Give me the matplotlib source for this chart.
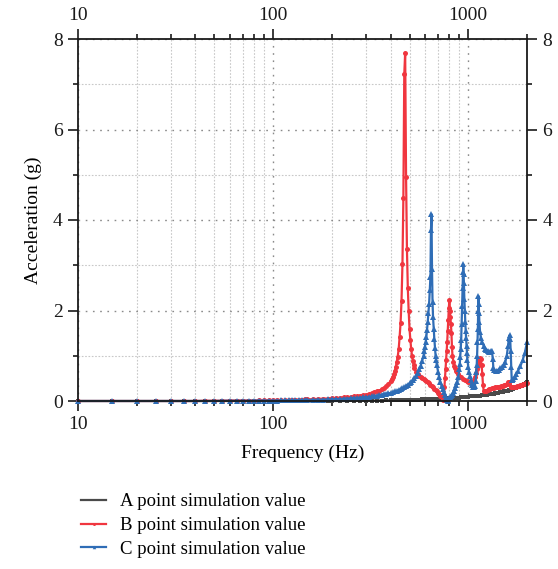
import matplotlib
matplotlib.use("Agg")
import matplotlib.pyplot as plt
from matplotlib.ticker import FixedLocator, NullFormatter, FixedFormatter, MultipleLocator

plt.rcParams["font.family"] = ["Liberation Serif", "DejaVu Serif"]

# ── data (frequency in Hz, acceleration in g) ──
A_POINTS = [
    (10, 0), (15, 0), (20, 0), (25, 0), (30, 0), (35, 0), (40, 0), (45, 0), (50, 0), (55, 0),
    (60, 0), (65, 0), (70, 0), (75, 0), (80, 0), (85, 0), (90, 0), (95, 0), (100, 0),
    (110, 0), (120, 0), (130, 0), (140, 0), (150, 0), (160, 0), (170, 0), (180, 0), (190, 0), (200, 0),
    (220, 0), (240, 0), (260, 0.005), (280, 0.005), (300, 0.01), (320, 0.01), (340, 0.01), (360, 0.01),
    (380, 0.015), (400, 0.015), (420, 0.02), (440, 0.02), (460, 0.02), (480, 0.025), (500, 0.025),
    (520, 0.03), (540, 0.03), (560, 0.03), (580, 0.035), (600, 0.035), (620, 0.04), (640, 0.04),
    (660, 0.045), (680, 0.045), (700, 0.05), (720, 0.05), (740, 0.055), (760, 0.055), (780, 0.06),
    (800, 0.06), (820, 0.065), (840, 0.065), (860, 0.07), (880, 0.075), (900, 0.075), (920, 0.08),
    (940, 0.085), (960, 0.085), (980, 0.09), (1000, 0.095), (1025, 0.10), (1050, 0.10), (1075, 0.11),
    (1100, 0.11), (1125, 0.12), (1150, 0.12), (1175, 0.13), (1200, 0.13), (1225, 0.14), (1250, 0.14),
    (1275, 0.15), (1300, 0.15), (1325, 0.16), (1350, 0.16), (1375, 0.17), (1400, 0.17), (1425, 0.18),
    (1450, 0.19), (1475, 0.19), (1500, 0.20), (1525, 0.21), (1550, 0.21), (1575, 0.22), (1600, 0.23),
    (1625, 0.24), (1650, 0.25), (1675, 0.26), (1700, 0.27), (1725, 0.28), (1750, 0.29), (1775, 0.30),
    (1800, 0.31), (1825, 0.32), (1850, 0.33), (1875, 0.34), (1900, 0.35), (1925, 0.37), (1950, 0.38),
    (1975, 0.39), (2000, 0.41),
]

B_POINTS = [
    (10, 0), (15, 0), (20, 0), (25, 0), (30, 0), (35, 0), (40, 0), (45, 0.005), (50, 0.005), (55, 0.005),
    (60, 0.01), (65, 0.01), (70, 0.01), (75, 0.01), (80, 0.01), (85, 0.015), (90, 0.015), (95, 0.015),
    (100, 0.02), (105, 0.02), (110, 0.02), (115, 0.02), (120, 0.025), (125, 0.025), (130, 0.03),
    (135, 0.03), (140, 0.03), (145, 0.035), (150, 0.035), (160, 0.04), (170, 0.045), (180, 0.05),
    (190, 0.055), (200, 0.06), (210, 0.065), (220, 0.07), (230, 0.08), (240, 0.085), (250, 0.09),
    (260, 0.10), (270, 0.11), (280, 0.12), (290, 0.13), (300, 0.14), (310, 0.15), (320, 0.17),
    (330, 0.19), (340, 0.21), (350, 0.23), (360, 0.26), (370, 0.29), (380, 0.33), (390, 0.38),
    (400, 0.44), (405, 0.48), (410, 0.53), (415, 0.59), (420, 0.66), (425, 0.75), (430, 0.86),
    (435, 0.98), (440, 1.15), (445, 1.42), (450, 1.73), (455, 2.22), (460, 3.03), (465, 4.49),
    (470, 7.22), (475, 7.70), (480, 4.96), (485, 3.36), (490, 2.50), (495, 1.99), (500, 1.59),
    (505, 1.35), (510, 1.15), (515, 1.0), (520, 0.88), (525, 0.8), (530, 0.73), (540, 0.65),
    (550, 0.6), (560, 0.56), (570, 0.53), (580, 0.5), (590, 0.48), (600, 0.46), (610, 0.44),
    (620, 0.42), (630, 0.39), (640, 0.36), (650, 0.33), (660, 0.3), (670, 0.27), (680, 0.24),
    (690, 0.21), (700, 0.18), (710, 0.15), (720, 0.12), (730, 0.09), (740, 0.05), (745, 0.02),
    (750, 0.1), (755, 0.3), (760, 0.5), (765, 0.7), (770, 0.9), (775, 1.1), (780, 1.3), (785, 1.55),
    (790, 1.8), (795, 2.05), (800, 2.23), (805, 2.0), (810, 1.85), (815, 1.7), (820, 1.5), (825, 1.2),
    (830, 1.0), (840, 0.86), (850, 0.78), (860, 0.72), (870, 0.67), (880, 0.63), (890, 0.59),
    (900, 0.56), (920, 0.52), (940, 0.49), (960, 0.46), (980, 0.44), (1000, 0.42), (1020, 0.41),
    (1040, 0.42), (1060, 0.45), (1080, 0.52), (1100, 0.62), (1110, 0.7), (1120, 0.78), (1130, 0.85),
    (1140, 0.9), (1150, 0.94), (1160, 0.92), (1170, 0.8), (1180, 0.6), (1190, 0.35), (1200, 0.22),
    (1220, 0.22), (1240, 0.23), (1260, 0.25), (1280, 0.26), (1300, 0.27), (1325, 0.28), (1350, 0.29),
    (1375, 0.3), (1400, 0.3), (1425, 0.31), (1450, 0.32), (1475, 0.33), (1500, 0.34), (1525, 0.35),
    (1550, 0.36), (1575, 0.38), (1600, 0.42), (1610, 0.43), (1625, 0.38), (1650, 0.32), (1675, 0.31),
    (1700, 0.31), (1725, 0.31), (1750, 0.32), (1775, 0.33), (1800, 0.34), (1825, 0.34), (1850, 0.35),
    (1875, 0.36), (1900, 0.37), (1925, 0.38), (1950, 0.38), (1975, 0.39), (2000, 0.40),
]

C_POINTS = [
    (10, 0), (15, 0), (20, 0), (25, 0), (30, 0), (35, 0), (40, 0), (45, 0), (50, 0), (55, 0.005),
    (60, 0.005), (65, 0.005), (70, 0.005), (75, 0.005), (80, 0.01), (85, 0.01), (90, 0.01), (95, 0.01),
    (100, 0.01), (105, 0.01), (110, 0.015), (115, 0.015), (120, 0.015), (125, 0.015), (130, 0.02),
    (135, 0.02), (140, 0.02), (145, 0.02), (150, 0.025), (160, 0.025), (170, 0.03), (180, 0.03),
    (190, 0.035), (200, 0.04), (210, 0.04), (220, 0.045), (230, 0.05), (240, 0.055), (250, 0.06),
    (260, 0.065), (270, 0.07), (280, 0.075), (290, 0.08), (300, 0.085), (310, 0.09), (320, 0.1),
    (330, 0.11), (340, 0.12), (350, 0.13), (360, 0.14), (370, 0.15), (380, 0.16), (390, 0.17),
    (400, 0.18), (410, 0.19), (420, 0.21), (430, 0.22), (440, 0.24), (450, 0.26), (460, 0.28),
    (470, 0.3), (480, 0.33), (490, 0.36), (500, 0.39), (510, 0.42), (520, 0.46), (530, 0.51),
    (540, 0.56), (550, 0.62), (560, 0.7), (570, 0.78), (580, 0.88), (590, 1.0), (595, 1.1), (600, 1.2),
    (605, 1.3), (610, 1.42), (615, 1.58), (620, 1.75), (625, 1.95), (630, 2.15), (635, 2.45),
    (640, 2.75), (644, 3.78), (648, 4.13), (652, 2.91), (656, 2.19), (660, 1.85), (665, 1.6),
    (670, 1.38), (675, 1.18), (680, 1.0), (685, 0.9), (690, 0.8), (700, 0.65), (710, 0.52),
    (720, 0.42), (730, 0.33), (740, 0.26), (750, 0.19), (760, 0.13), (770, 0.08), (780, 0.03),
    (785, 0.01), (790, 0.03), (800, 0.06), (810, 0.09), (820, 0.11), (830, 0.14), (840, 0.17),
    (850, 0.22), (860, 0.28), (870, 0.35), (880, 0.43), (890, 0.54), (900, 0.7), (905, 0.82),
    (910, 0.98), (915, 1.15), (920, 1.35), (925, 1.7), (930, 2.1), (935, 2.5), (940, 2.85),
    (943, 3.02), (947, 2.8), (950, 2.6), (955, 2.25), (960, 2.0), (965, 1.75), (970, 1.55),
    (975, 1.4), (980, 1.22), (985, 1.05), (990, 0.91), (1000, 0.75), (1010, 0.63), (1020, 0.55),
    (1030, 0.47), (1040, 0.4), (1050, 0.35), (1060, 0.31), (1070, 0.3), (1080, 0.33), (1090, 0.45),
    (1100, 0.65), (1105, 0.8), (1110, 1.0), (1115, 1.3), (1120, 1.6), (1124, 2.0), (1128, 2.32),
    (1132, 2.15), (1136, 1.95), (1140, 1.75), (1150, 1.52), (1160, 1.4), (1175, 1.3), (1200, 1.22),
    (1220, 1.16), (1240, 1.13), (1260, 1.11), (1280, 1.09), (1300, 1.08), (1315, 1.1), (1325, 1.1),
    (1335, 0.92), (1345, 0.74), (1360, 0.68), (1380, 0.66), (1400, 0.66), (1430, 0.69), (1460, 0.72),
    (1490, 0.75), (1520, 0.8), (1550, 0.87), (1575, 1.0), (1600, 1.22), (1615, 1.4), (1630, 1.46),
    (1640, 1.38), (1650, 1.1), (1660, 0.75), (1670, 0.46), (1685, 0.46), (1700, 0.48), (1730, 0.53),
    (1760, 0.59), (1800, 0.67), (1850, 0.77), (1900, 0.9), (1950, 1.07), (2000, 1.3),
]

# label, points, colour, marker, marker size
SERIES = [
    ("A point simulation value", A_POINTS, "#4a4a4a", "s", 3.0),
    ("B point simulation value", B_POINTS, "#f0363f", "o", 3.6),
    ("C point simulation value", C_POINTS, "#2f6db6", "^", 4.2),
]

X_MAJOR = [10, 100, 1000]
X_MINOR = [20, 30, 40, 50, 60, 70, 80, 90, 200, 300, 400, 500, 600, 700, 800, 900, 2000]
X_LABELS = ["10", "100", "1000"]


def main():
    fig = plt.figure(figsize=(5.58, 5.69), dpi=100)
    ax = fig.add_axes([78 / 558, 1 - 401 / 569, 449 / 558, 362 / 569])

    lines = []
    for label, pts, color, marker, ms in SERIES:
        f = [p[0] for p in pts]
        v = [p[1] for p in pts]
        ln, = ax.plot(f, v, color=color, lw=1.6, marker=marker, ms=ms, mew=0,
                      label=label, clip_on=False)
        lines.append(ln)

    ax.set_xscale("log")
    ax.set_xlim(10, 2000)
    ax.set_ylim(0, 8)

    ax.xaxis.set_major_locator(FixedLocator(X_MAJOR))
    ax.xaxis.set_major_formatter(FixedFormatter(X_LABELS))
    ax.xaxis.set_minor_locator(FixedLocator(X_MINOR))
    ax.xaxis.set_minor_formatter(NullFormatter())
    ax.yaxis.set_major_locator(MultipleLocator(2))
    ax.yaxis.set_minor_locator(MultipleLocator(1))

    ax.grid(which="major", color="#8a8a8a", ls=(0, (1.2, 4)), lw=1.0)
    ax.grid(which="minor", color="#c8c8c8", ls=(0, (1.5, 1.5)), lw=0.8)
    ax.set_axisbelow(True)

    ax.tick_params(which="both", direction="out", top=True, right=True,
                   labeltop=True, labelright=True, labelsize=14, width=1.2,
                   colors="#1a1a1a", pad=4)
    ax.tick_params(which="major", length=7)
    ax.tick_params(which="minor", length=3.5)
    for sp in ax.spines.values():
        sp.set_linewidth(1.3)
        sp.set_color("#1a1a1a")

    ax.set_xlabel("Frequency (Hz)", fontsize=14, labelpad=8)
    ax.set_ylabel("Acceleration (g)", fontsize=14, labelpad=8)

    fig.legend(lines, [s[0] for s in SERIES], loc="upper left",
               bbox_to_anchor=(72 / 558, 1 - 484 / 569),
               frameon=False, fontsize=13.5, handlelength=1.3, handletextpad=0.75,
               labelspacing=0.35, borderpad=0, numpoints=1, markerscale=0.6)

    fig.savefig("out.png", dpi=100)
    plt.close(fig)


if __name__ == "__main__":
    main()
